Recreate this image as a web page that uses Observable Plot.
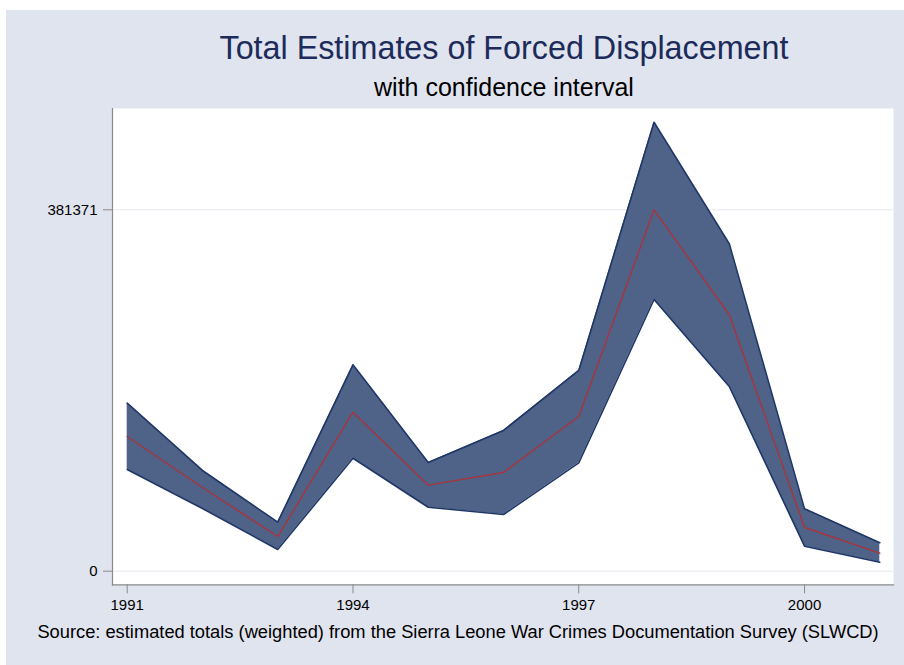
<!DOCTYPE html>
<html>
<head>
<meta charset="utf-8">
<script src="https://cdn.jsdelivr.net/npm/d3@7"></script>
<script src="https://cdn.jsdelivr.net/npm/@observablehq/plot@0.6"></script>
<style>
  html, body { margin: 0; padding: 0; background: #ffffff; }
  #page { position: relative; width: 904px; height: 665px; overflow: hidden; font-family: "Liberation Sans", Arial, sans-serif; }
  #bg { position: absolute; left: 6px; top: 10px; right: 0; bottom: 0; background: #e0e4ef; }
  #title { position: absolute; left: 104px; width: 800px; top: 29px; text-align: center; font-size: 32.3px; color: #1c2b5a; line-height: 38px; white-space: nowrap; }
  #subtitle { position: absolute; left: 104px; width: 800px; top: 72px; text-align: center; font-size: 25px; color: #000; line-height: 30px; white-space: nowrap; }
  #chart { position: absolute; left: 6px; top: 100px; }
  #caption { position: absolute; left: 8px; width: 900px; top: 621px; text-align: center; font-size: 18.3px; color: #000; line-height: 22px; white-space: nowrap; }
</style>
</head>
<body>
<div id="page">
  <div id="bg"></div>
  <div id="title">Total Estimates of Forced Displacement</div>
  <div id="subtitle">with confidence interval</div>
  <div id="chart"></div>
  <div id="caption">Source: estimated totals (weighted) from the Sierra Leone War Crimes Documentation Survey (SLWCD)</div>
</div>
<script>
const years = [1991, 1992, 1993, 1994, 1995, 1996, 1997, 1998, 1999, 2000, 2001];
const estimate = [142100, 88300, 36600, 167800, 90800, 104200, 163200, 381371, 270600, 46100, 19000];
const upperCI = [177300, 106300, 51700, 217800, 114700, 148500, 211800, 473800, 345500, 65800, 30000];
const lowerCI = [107300, 66200, 22900, 119200, 67500, 59800, 114400, 286700, 194900, 26400, 9500];
const xTicks = [1991, 1994, 1997, 2000];
const yTicks = [0, 381371];

const data = years.map((y, i) => ({year: y, est: estimate[i], hi: upperCI[i], lo: lowerCI[i]}));

const W = 892, H = 520;
const plot = Plot.plot({
  width: W,
  height: H,
  marginLeft: 106,
  marginRight: 5,
  marginTop: 8,
  marginBottom: 35.7,
  style: { background: "transparent", fontFamily: "Liberation Sans, Arial, sans-serif", fontSize: "15px", color: "#000" },
  x: { domain: [1991, 2001], insetLeft: 14.7, insetRight: 13.7, label: null },
  y: { domain: [0, 381371], insetTop: 101.3, insetBottom: 13.6, label: null },
  marks: [
    Plot.frame({ fill: "#ffffff", stroke: "none" }),
    Plot.ruleY(yTicks, { stroke: "#e6e9f1", strokeWidth: 1 }),
    Plot.areaY(data, { x: "year", y1: "lo", y2: "hi", fill: "#4f6389", fillOpacity: 1 }),
    Plot.lineY(data, { x: "year", y: "hi", stroke: "#1f3667", strokeWidth: 1.6 }),
    Plot.lineY(data, { x: "year", y: "lo", stroke: "#1f3667", strokeWidth: 1.6 }),
    Plot.lineY(data, { x: "year", y: "est", stroke: "#a8343c", strokeWidth: 1.4 }),
    Plot.frame({ anchor: "left", stroke: "#8a8a8a", strokeWidth: 1.2 }),
    Plot.frame({ anchor: "bottom", stroke: "#8a8a8a", strokeWidth: 1.2 }),
    Plot.axisY({ ticks: yTicks, tickFormat: d => String(d), tickSize: 9, tickPadding: 6, stroke: "#8a8a8a", fill: "#000", fontSize: 15, label: null }),
    Plot.axisX({ ticks: xTicks, tickFormat: d => String(d), tickSize: 9, tickPadding: 6, stroke: "#8a8a8a", fill: "#000", fontSize: 15, label: null })
  ]
});
document.getElementById("chart").appendChild(plot);
</script>
</body>
</html>
